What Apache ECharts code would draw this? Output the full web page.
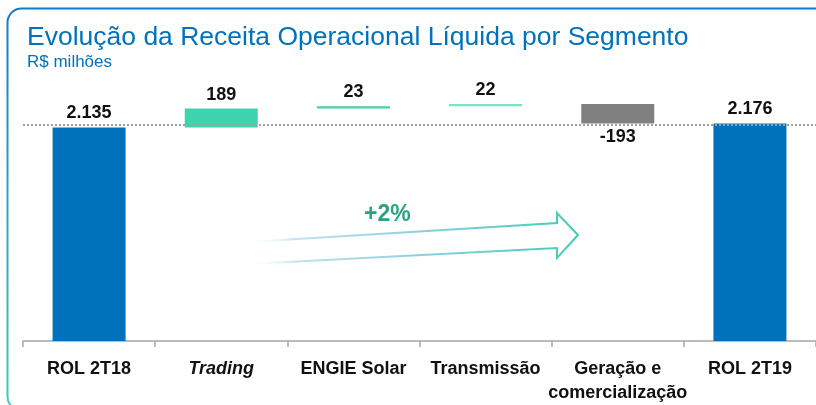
<!DOCTYPE html>
<html>
<head>
<meta charset="utf-8">
<script src="https://cdn.jsdelivr.net/npm/echarts@6/dist/echarts.min.js"></script>
<style>
html, body { margin: 0; padding: 0; background: #fff; }
#chart { width: 816px; height: 405px; }
</style>
</head>
<body>
<div id="chart"></div>
<script>
var categories = ['ROL 2T18', 'Trading', 'ENGIE Solar', 'Transmissão', 'Geração e\ncomercialização', 'ROL 2T19'];
var values = [2135, 189, 23, 22, -193, 2176];
var isTotal = [true, false, false, false, false, true];
var barColors = ['#0072BC', '#3DD4AF', '#3ED1AA', '#7EE0C6', '#808080', '#0072BC'];
var growthLabel = '+2%';

// waterfall: base (invisible) + visible bar
var base = [], shown = [], run = 0;
values.forEach(function (v, i) {
	if (isTotal[i]) {
		base.push(0); shown.push(v); run = v;
	} else if (v >= 0) {
		base.push(run); shown.push(v); run += v;
	} else {
		run += v; base.push(run); shown.push(-v);
	}
});

function fmt(v) {
	var s = String(Math.abs(v)).replace(/\B(?=(\d{3})+(?!\d))/g, '.');
	return (v < 0 ? '-' : '') + s;
}

var FONT = 'Liberation Sans, Arial, sans-serif';
var myChart = echarts.init(document.getElementById('chart'));
var option = {
	animation: false,
	grid: { left: 23, right: -1, top: 91, bottom: 64 },
	xAxis: {
		type: 'category',
		data: categories,
		axisLine: { lineStyle: { color: '#A6A6A6', width: 1.5 } },
		axisTick: { show: true, length: 6, lineStyle: { color: '#A6A6A6', width: 1.5 } },
		axisLabel: {
			margin: 16,
			color: '#111',
			fontFamily: FONT,
			fontSize: 18,
			fontWeight: 'bold',
			lineHeight: 24,
			interval: 0,
			formatter: function (v) {
				return v === 'Trading' ? '{it|Trading}' : v;
			},
			rich: {
				it: { fontStyle: 'italic', fontWeight: 'bold', fontSize: 18, color: '#111', fontFamily: FONT }
			}
		}
	},
	yAxis: { type: 'value', min: 0, max: 2500, show: false, splitLine: { show: false } },
	series: [
		{
			type: 'bar',
			stack: 'w',
			data: base,
			itemStyle: { color: 'transparent' },
			silent: true,
			markLine: {
				symbol: 'none',
				silent: true,
				label: { show: false },
				lineStyle: { color: '#A0A0A0', type: [2, 2], width: 2 },
				data: [{ yAxis: 2160 }]
			}
		},
		{
			type: 'bar',
			stack: 'w',
			barWidth: 73,
			data: shown.map(function (v, i) {
				return {
					value: v,
					itemStyle: { color: barColors[i] },
					label: {
						position: values[i] < 0 ? 'bottom' : 'top',
						formatter: fmt(values[i])
					}
				};
			}),
			label: {
				show: true,
				distance: 5,
				color: '#111',
				fontFamily: FONT,
				fontSize: 18,
				fontWeight: 'bold'
			}
		}
	],
	graphic: [
		{
			type: 'rect',
			shape: { x: 7.5, y: 8.5, width: 840, height: 402, r: 14 },
			style: {
				fill: 'none',
				lineWidth: 2,
				stroke: new echarts.graphic.LinearGradient(0, 0, 0, 1, [
					{ offset: 0, color: '#1479C8' },
					{ offset: 0.5, color: '#2AA8BC' },
					{ offset: 1, color: '#3ECDB0' }
				])
			},
			z: -1
		},
		{
			type: 'text',
			left: 27, top: 24,
			style: {
				text: 'Evolução da Receita Operacional Líquida por Segmento',
				fill: '#0072BC',
				font: '26.5px ' + FONT
			}
		},
		{
			type: 'text',
			left: 27, top: 54,
			style: {
				text: 'R$ milhões',
				fill: '#0072BC',
				font: '17px ' + FONT
			}
		},
		{
			type: 'polyline',
			shape: {
				points: [[248, 242], [557, 223], [557, 213], [578, 235], [557, 258], [557, 248], [248, 264]]
			},
			style: {
				fill: 'none',
				lineWidth: 2,
				stroke: new echarts.graphic.LinearGradient(0, 0, 1, 0, [
					{ offset: 0, color: 'rgba(255,255,255,0)' },
					{ offset: 0.15, color: '#C4E2EE' },
					{ offset: 0.5, color: '#8FD0E0' },
					{ offset: 1, color: '#3ECDB0' }
				])
			}
		},
		{
			type: 'text',
			left: 364, top: 203,
			style: {
				text: growthLabel,
				fill: '#2BA37E',
				font: 'bold 23px ' + FONT
			}
		}
	]
};
myChart.setOption(option);
</script>
</body>
</html>
